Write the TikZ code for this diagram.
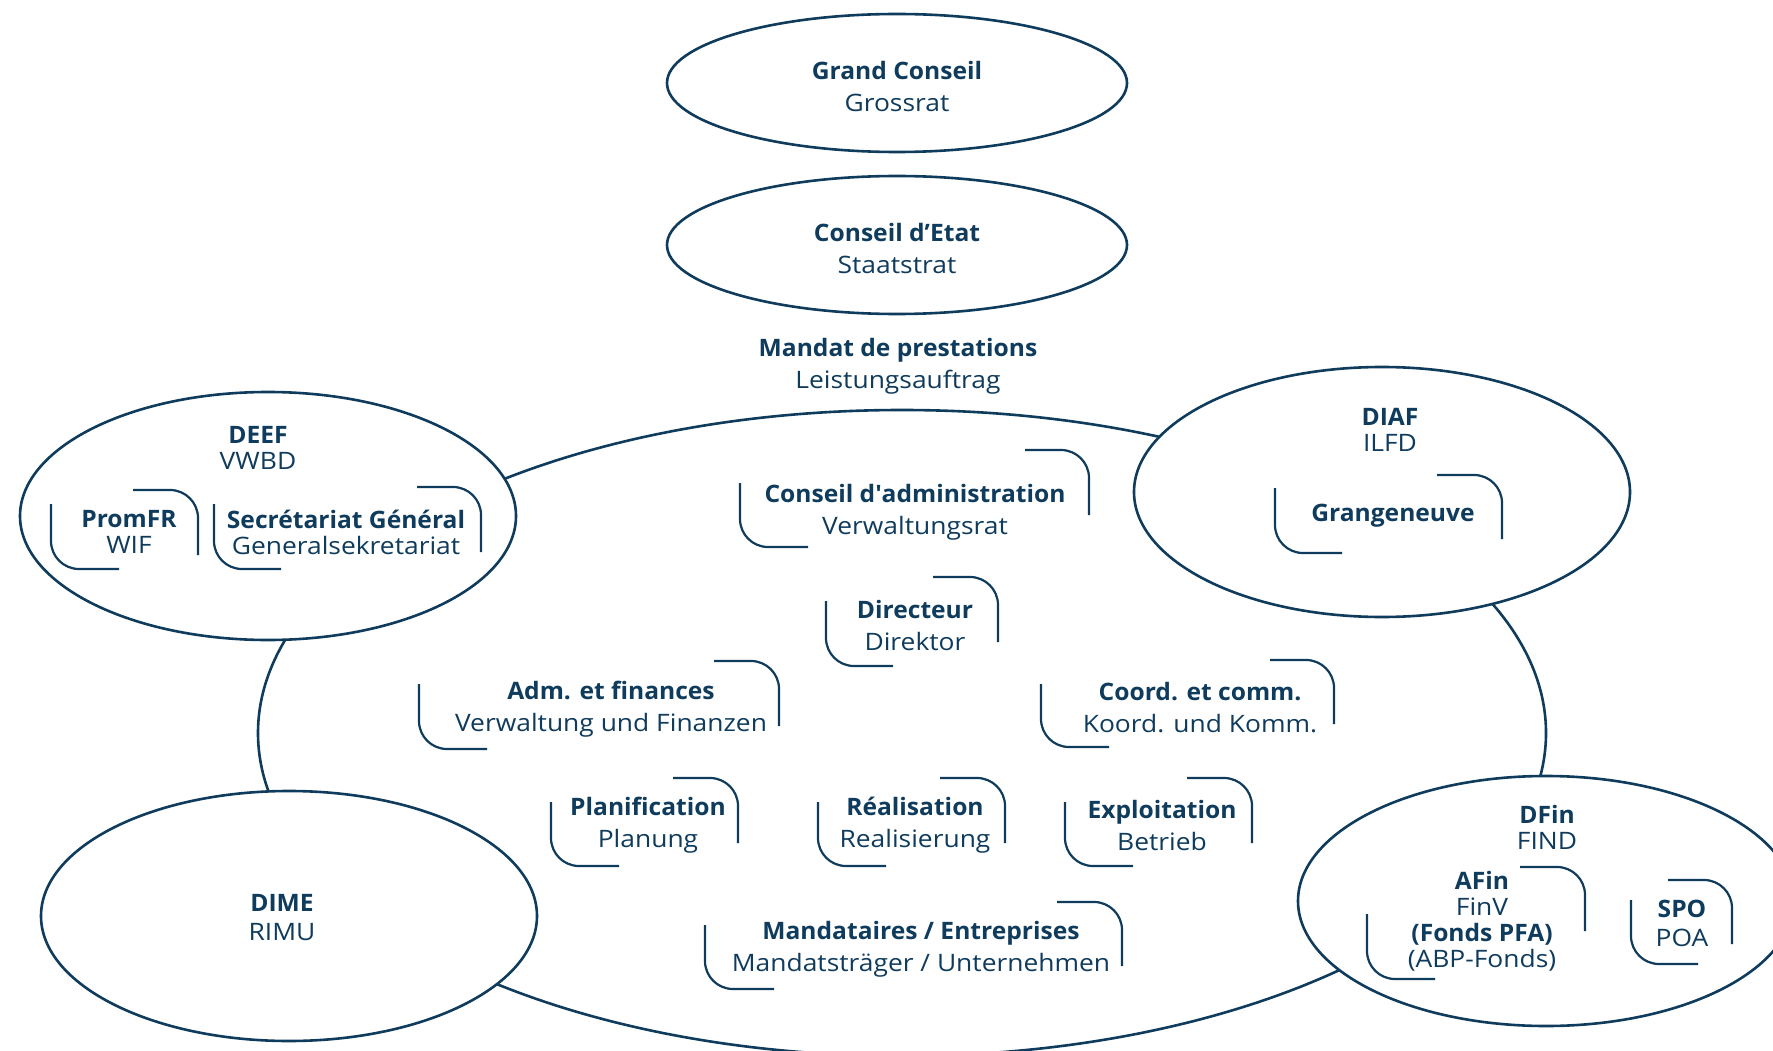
\documentclass[tikz,border=0pt]{standalone}
\usepackage{fontspec}
\setmainfont{Open Sans}[UprightFeatures={FakeStretch=1.10}, BoldFeatures={FakeStretch=1.025}]
\usetikzlibrary{shapes.geometric}
\definecolor{navy}{HTML}{0F3B5C}
\tikzset{
  ell/.style={ellipse, draw=navy, line width=2.6pt, fill=white, inner sep=0pt},
  brk/.style={draw=navy, line width=2.2pt, rounded corners=28pt},
  lbl/.style={text=navy, align=center, inner sep=0pt, yshift=-2pt, font=\fontsize{24}{32}\selectfont},
  tight/.style={font=\fontsize{24}{26}\selectfont},
}
\newcommand\brk[8]{%
  \draw[brk] (#1,#2) |- (#4,#3);
  \draw[brk] (#5,#6) -| (#7,#8);
}
\begin{document}
\begin{tikzpicture}[x=1pt,y=-1pt]
\useasboundingbox (0,0) rectangle (1773,1051);
\clip (0,0) rectangle (1773,1051);
% top ellipses
\node[ell, minimum width=460, minimum height=138] (gc) at (897,83) {};
\node[lbl] (gct) at (897,85) {\textbf{Grand Conseil}\\Grossrat};
\node[ell, minimum width=460, minimum height=138] (ce) at (897,245) {};
\node[lbl] (cet) at (897,246) {\textbf{Conseil d’Etat}\\Staatstrat};
\node[lbl] (mandat) at (898,364) {\textbf{Mandat de prestations}\\Leistungsauftrag};
% big ellipse
\node[ell, fill=none, minimum width=1288, minimum height=646] (big) at (902,733) {};
% department ellipses
\node[ell, minimum width=496, minimum height=248] (deef) at (268,516) {};
\node[ell, minimum width=496, minimum height=250] (diaf) at (1382,492) {};
\node[ell, minimum width=496, minimum height=250] (dime) at (289,916) {};
\node[ell, minimum width=496, minimum height=250] (dfin) at (1546,901) {};
% DEEF
\node[lbl, tight] (deeft) at (258,446) {\textbf{DEEF}\\VWBD};
\node[lbl, tight] (promfr) at (129,530) {\textbf{PromFR}\\WIF};
\brk{51}{504}{569}{119}{133}{490}{198}{555}
\node[lbl, tight] (secgen) at (346,530) {\textbf{Secrétariat Général}\\Generalsekretariat};
\brk{214}{504}{569}{281}{417}{487}{481}{552}
% DIAF
\node[lbl, tight] (diaft) at (1390,428) {\textbf{DIAF}\\ILFD};
\node[lbl] (grange) at (1393,514) {\textbf{Grangeneuve}};
\brk{1275}{488}{553}{1342}{1437}{475}{1502}{539}
% DIME
\node[lbl, font=\fontsize{24}{29}\selectfont] (dimet) at (282,916) {\textbf{DIME}\\RIMU};
% DFin
\node[lbl, tight] (dfint) at (1547,825) {\textbf{DFin}\\FIND};
\node[lbl, tight] (afin) at (1482,919) {\textbf{AFin}\\FinV\\\textbf{(Fonds PFA)}\\(ABP-Fonds)};
\brk{1367}{914}{979}{1435}{1520}{867}{1585}{931}
\node[lbl, font=\fontsize{24}{29}\selectfont] (spo) at (1682,921) {\textbf{SPO}\\POA};
\brk{1631}{900}{964}{1698}{1668}{880}{1732}{944}
% inner organisation
\node[lbl] (ca) at (915,510) {\textbf{Conseil d\textquotesingle administration}\\Verwaltungsrat};
\brk{740}{483}{547}{808}{1025}{450}{1089}{515}
\node[lbl] (dir) at (915,623) {\textbf{Directeur}\\Direktor};
\brk{826}{601}{666}{893}{933}{577}{998}{642}
\node[lbl] (adm) at (611,707) {\textbf{Adm. et finances}\\Verwaltung und Finanzen};
\brk{419}{684}{749}{487}{714}{661}{779}{726}
\node[lbl] (coord) at (1200,706) {\textbf{Coord. et comm.}\\Koord. und Komm.};
\brk{1041}{684}{747}{1109}{1270}{660}{1334}{724}
\node[lbl] (plan) at (648,823) {\textbf{Planification}\\Planung};
\brk{551}{802}{866}{619}{673}{778}{738}{843}
\node[lbl] (real) at (915,823) {\textbf{Réalisation}\\Realisierung};
\brk{818}{802}{866}{886}{940}{778}{1005}{843}
\node[lbl] (expl) at (1162,823) {\textbf{Exploitation}\\Betrieb};
\brk{1065}{802}{866}{1133}{1187}{778}{1252}{843}
\node[lbl] (mand) at (921,947) {\textbf{Mandataires / Entreprises}\\Mandatsträger / Unternehmen};
\brk{705}{925}{989}{774}{1057}{902}{1122}{966}
\end{tikzpicture}
\end{document}
